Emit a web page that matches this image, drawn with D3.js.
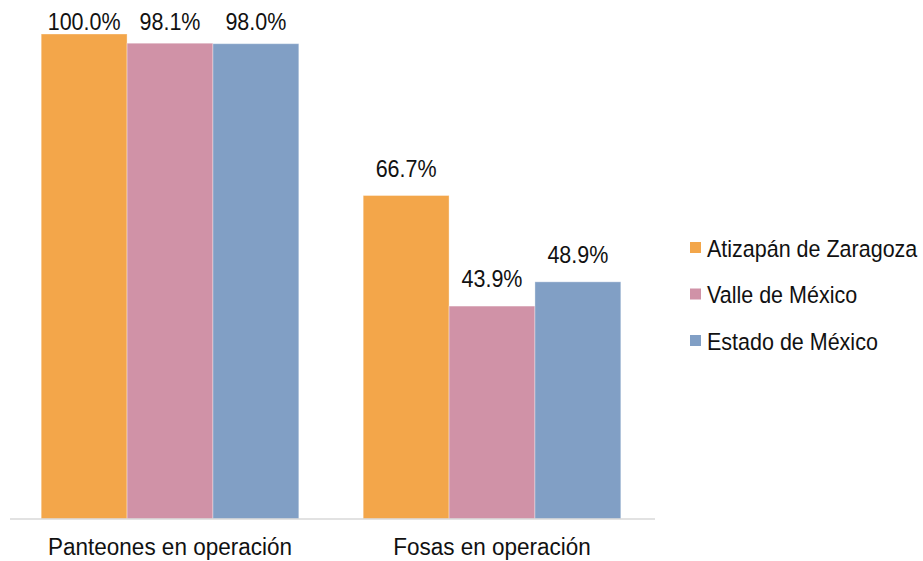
<!DOCTYPE html>
<html>
<head>
<meta charset="utf-8">
<script src="https://cdn.jsdelivr.net/npm/d3@7"></script>
<style>
  html, body { margin: 0; padding: 0; background: #fff; }
  svg { display: block; font-family: "Liberation Sans", Arial, sans-serif; }
</style>
</head>
<body>
<svg id="chart" width="923" height="561"></svg>
<script>
// Categories, series and values (percent)
const categories = ["Panteones en operación", "Fosas en operación"];
const seriesNames = ["Atizapán de Zaragoza", "Valle de México", "Estado de México"];
const atizapan = [100.0, 66.7];
const valle = [98.1, 43.9];
const estado = [98.0, 48.9];
const seriesColors = ["#F3A64A", "#D092A7", "#819FC5"];

const seriesValues = [atizapan, valle, estado];

// Text is drawn slightly taller than the font's natural proportions
const stretchY = 1.1;
const textColor = "#111111";

const svg = d3.select("#chart");

const plot = { left: 9, right: 653, top: 34, bottom: 519 };

const x0 = d3.scaleBand()
  .domain(categories)
  .range([plot.left, plot.right])
  .paddingInner(0.2)
  .paddingOuter(0.1);

const x1 = d3.scaleBand()
  .domain(seriesNames)
  .range([0, x0.bandwidth()]);

const y = d3.scaleLinear()
  .domain([0, 100])
  .range([plot.bottom, plot.top]);

const rows = [];
categories.forEach((c, ci) => {
  seriesNames.forEach((s, si) => {
    rows.push({ category: c, series: s, value: seriesValues[si][ci], color: seriesColors[si] });
  });
});

// Bars
svg.append("g")
  .selectAll("rect")
  .data(rows)
  .join("rect")
  .attr("x", d => x0(d.category) + x1(d.series))
  .attr("y", d => y(d.value))
  .attr("width", x1.bandwidth())
  .attr("height", d => y(0) - y(d.value))
  .attr("fill", d => d.color)
  .attr("stroke", "#ffffff")
  .attr("stroke-opacity", 0.35)
  .attr("stroke-width", 1);

// Category axis
const xAxis = svg.append("g")
  .attr("transform", `translate(0,${plot.bottom})`)
  .call(d3.axisBottom(x0).tickSize(0).tickPadding(0));
xAxis.select(".domain")
  .attr("stroke", "#d9d9d9")
  .attr("stroke-width", 1.5)
  .attr("d", `M${plot.left + 1},0H${plot.right + 2}`);
xAxis.selectAll(".tick text")
  .attr("font-family", "'Liberation Sans', Arial, sans-serif")
  .attr("font-size", 22.5)
  .attr("fill", textColor)
  .attr("dy", 0)
  .attr("y", 0)
  .attr("transform", `translate(0,35.5) scale(1,${stretchY})`);

// Value labels, kept inside the top of the chart
svg.append("g")
  .selectAll("text")
  .data(rows)
  .join("text")
  .attr("transform", d => {
    const lx = x0(d.category) + x1(d.series) + x1.bandwidth() / 2;
    const ly = Math.max(y(d.value) - 19, 30);
    return `translate(${lx},${ly}) scale(1,${stretchY})`;
  })
  .attr("text-anchor", "middle")
  .attr("font-size", 21.5)
  .attr("fill", textColor)
  .text(d => d.value.toFixed(1) + "%");

// Legend
const legend = svg.append("g")
  .attr("transform", "translate(690,242)");
const item = legend.selectAll("g")
  .data(seriesNames)
  .join("g")
  .attr("transform", (d, i) => `translate(0,${i * 46.5})`);
item.append("rect")
  .attr("width", 11)
  .attr("height", 11)
  .attr("fill", (d, i) => seriesColors[i]);
item.append("text")
  .attr("transform", `translate(17,14.5) scale(1,${stretchY})`)
  .attr("font-size", 21.5)
  .attr("fill", textColor)
  .text(d => d);
</script>
</body>
</html>
